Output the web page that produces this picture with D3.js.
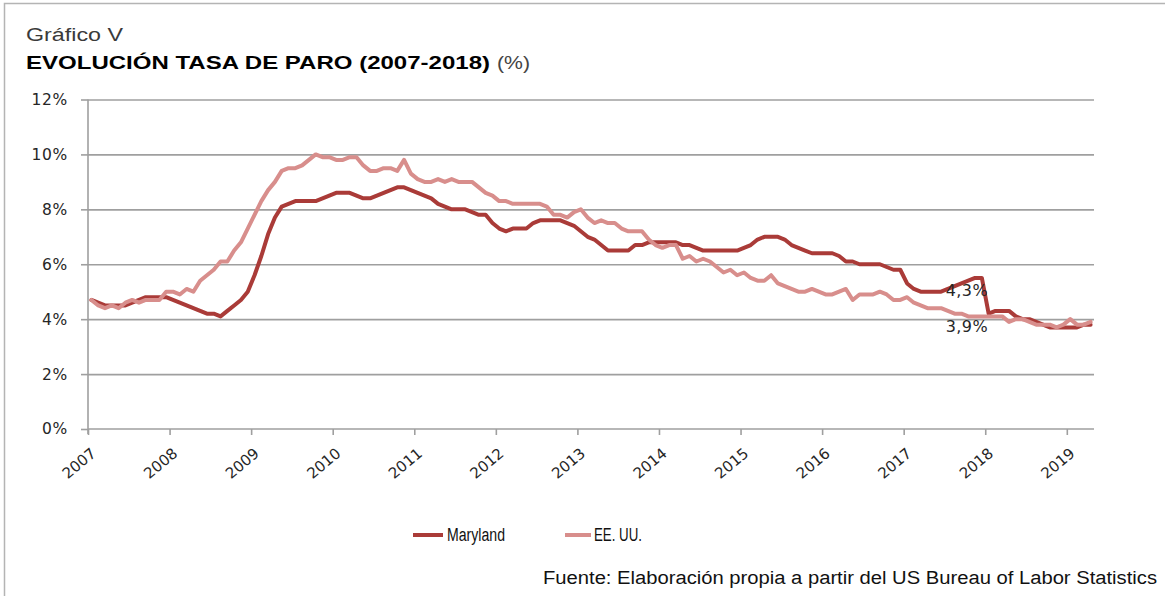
<!DOCTYPE html>
<html>
<head>
<meta charset="utf-8">
<script src="https://cdn.jsdelivr.net/npm/d3@7"></script>
<style>
  body { margin: 0; background: #fff; }
  svg { display: block; }
</style>
</head>
<body>
<svg id="chart" width="1165" height="596"></svg>
<script>
// monthly unemployment rate, Jan 2007 .. Apr 2019
const maryland = [
  4.7, 4.6, 4.5, 4.5, 4.5, 4.5, 4.6, 4.7, 4.8, 4.8, 4.8, 4.8,
  4.7, 4.6, 4.5, 4.4, 4.3, 4.2, 4.2, 4.1, 4.3, 4.5, 4.7, 5.0,
  5.6, 6.3, 7.1, 7.7, 8.1, 8.2, 8.3, 8.3, 8.3, 8.3, 8.4, 8.5,
  8.6, 8.6, 8.6, 8.5, 8.4, 8.4, 8.5, 8.6, 8.7, 8.8, 8.8, 8.7,
  8.6, 8.5, 8.4, 8.2, 8.1, 8.0, 8.0, 8.0, 7.9, 7.8, 7.8, 7.5,
  7.3, 7.2, 7.3, 7.3, 7.3, 7.5, 7.6, 7.6, 7.6, 7.6, 7.5, 7.4,
  7.2, 7.0, 6.9, 6.7, 6.5, 6.5, 6.5, 6.5, 6.7, 6.7, 6.8, 6.8,
  6.8, 6.8, 6.8, 6.7, 6.7, 6.6, 6.5, 6.5, 6.5, 6.5, 6.5, 6.5,
  6.6, 6.7, 6.9, 7.0, 7.0, 7.0, 6.9, 6.7, 6.6, 6.5, 6.4, 6.4,
  6.4, 6.4, 6.3, 6.1, 6.1, 6.0, 6.0, 6.0, 6.0, 5.9, 5.8, 5.8,
  5.3, 5.1, 5.0, 5.0, 5.0, 5.0, 5.1, 5.2, 5.3, 5.4, 5.5, 5.5,
  4.2, 4.3, 4.3, 4.3, 4.1, 4.0, 4.0, 3.9, 3.8, 3.7, 3.7, 3.7,
  3.7, 3.7, 3.8, 3.8
];
const eeuu = [
  4.7, 4.5, 4.4, 4.5, 4.4, 4.6, 4.7, 4.6, 4.7, 4.7, 4.7, 5.0,
  5.0, 4.9, 5.1, 5.0, 5.4, 5.6, 5.8, 6.1, 6.1, 6.5, 6.8, 7.3,
  7.8, 8.3, 8.7, 9.0, 9.4, 9.5, 9.5, 9.6, 9.8, 10.0, 9.9, 9.9,
  9.8, 9.8, 9.9, 9.9, 9.6, 9.4, 9.4, 9.5, 9.5, 9.4, 9.8, 9.3,
  9.1, 9.0, 9.0, 9.1, 9.0, 9.1, 9.0, 9.0, 9.0, 8.8, 8.6, 8.5,
  8.3, 8.3, 8.2, 8.2, 8.2, 8.2, 8.2, 8.1, 7.8, 7.8, 7.7, 7.9,
  8.0, 7.7, 7.5, 7.6, 7.5, 7.5, 7.3, 7.2, 7.2, 7.2, 6.9, 6.7,
  6.6, 6.7, 6.7, 6.2, 6.3, 6.1, 6.2, 6.1, 5.9, 5.7, 5.8, 5.6,
  5.7, 5.5, 5.4, 5.4, 5.6, 5.3, 5.2, 5.1, 5.0, 5.0, 5.1, 5.0,
  4.9, 4.9, 5.0, 5.1, 4.7, 4.9, 4.9, 4.9, 5.0, 4.9, 4.7, 4.7,
  4.8, 4.6, 4.5, 4.4, 4.4, 4.4, 4.3, 4.2, 4.2, 4.1, 4.1, 4.1,
  4.1, 4.1, 4.1, 3.9, 4.0, 4.0, 3.9, 3.8, 3.8, 3.8, 3.7, 3.8,
  4.0, 3.8, 3.8, 3.9
];
const seriesNames = ["Maryland", "EE. UU."];
const yearLabels = ["2007", "2008", "2009", "2010", "2011", "2012", "2013",
                    "2014", "2015", "2016", "2017", "2018", "2019"];
const yTicks = [0, 2, 4, 6, 8, 10, 12];
// the two loose labels on the right of the plot
const noteText = ["4,3%", "3,9%"];
const noteMonth = [133, 133];
const noteValue = [5.05, 3.75];

const colMd = "#aa3b38", colUs = "#d88e8c", gridCol = "#9f9f9f";

const svg = d3.select("#chart");
const plot = {left: 88, right: 1094, top: 99.5, bottom: 429};

svg.append("rect").attr("width", 1165).attr("height", 596).attr("fill", "#fff");
// frame of the original figure
svg.append("path").attr("d", "M4.5,596V3.5H1165")
  .attr("fill", "none").attr("stroke", "#b4b4b4").attr("stroke-width", 1.5);

// titles
svg.append("text").attr("x", 26).attr("y", 41)
  .attr("font-family", "'Liberation Sans', Arial, sans-serif").attr("font-size", 18)
  .attr("fill", "#3a3a3a").attr("textLength", 97).attr("lengthAdjust", "spacingAndGlyphs")
  .text("Gráfico V");
svg.append("text").attr("x", 26).attr("y", 69)
  .attr("font-family", "'Liberation Sans', Arial, sans-serif").attr("font-size", 19)
  .attr("font-weight", "bold").attr("fill", "#000")
  .attr("textLength", 464).attr("lengthAdjust", "spacingAndGlyphs")
  .text("EVOLUCIÓN TASA DE PARO (2007-2018)");
svg.append("text").attr("x", 497).attr("y", 69)
  .attr("font-family", "'Liberation Sans', Arial, sans-serif").attr("font-size", 19)
  .attr("fill", "#444").attr("textLength", 33).attr("lengthAdjust", "spacingAndGlyphs")
  .text("(%)");

const n = maryland.length;
const x = d3.scaleLinear().domain([0, n]).range([plot.left, plot.right]);
const y = d3.scaleLinear().domain([0, 12]).range([plot.bottom, plot.top]);

// horizontal gridlines
svg.append("g")
  .attr("transform", `translate(${plot.left},0)`)
  .call(d3.axisLeft(y).tickValues(yTicks.slice(1)).tickSize(-(plot.right - plot.left)).tickFormat(""))
  .call(g => g.select(".domain").remove())
  .call(g => g.selectAll("line").attr("stroke", gridCol).attr("stroke-width", 1.6));

// y axis
const yAxis = svg.append("g")
  .attr("transform", `translate(${plot.left},0)`)
  .call(d3.axisLeft(y).tickValues(yTicks).tickSize(7).tickPadding(13).tickFormat(d => d + "%"));
yAxis.select(".domain").attr("stroke", gridCol).attr("stroke-width", 1.6)
  .attr("d", `M0,${plot.top}V${plot.bottom + 5}`);
yAxis.selectAll("line").attr("stroke", gridCol).attr("stroke-width", 1.6);
yAxis.selectAll("text")
  .attr("font-family", "'DejaVu Sans', Verdana, sans-serif").attr("font-size", 15.5)
  .attr("letter-spacing", 0.7).attr("fill", "#262626");

// x axis, one tick at the start of every year
const xAxis = svg.append("g")
  .attr("transform", `translate(0,${plot.bottom})`)
  .call(d3.axisBottom(x).tickValues(yearLabels.map((d, i) => i * 12)).tickSize(6).tickFormat(""));
xAxis.select(".domain").attr("stroke", gridCol).attr("stroke-width", 1.6)
  .attr("d", `M${plot.left},0H${plot.right}`);
xAxis.selectAll("line").attr("stroke", gridCol).attr("stroke-width", 1.6);

svg.append("g").selectAll("text")
  .data(yearLabels)
  .join("text")
  .attr("transform", (d, i) => `translate(${x(i * 12) + 9},455) rotate(-40)`)
  .attr("text-anchor", "end")
  .attr("font-family", "'DejaVu Sans', Verdana, sans-serif").attr("font-size", 15)
  .attr("fill", "#262626")
  .text(d => d);

// series
const line = d3.line().x((d, i) => x(i + 0.5)).y(d => y(d));
[[maryland, colMd], [eeuu, colUs]].forEach(([vals, col]) => {
  svg.append("path").datum(vals)
    .attr("d", line)
    .attr("fill", "none").attr("stroke", col).attr("stroke-width", 4)
    .attr("stroke-linejoin", "round").attr("stroke-linecap", "round");
});

// loose value labels
svg.append("g").selectAll("text")
  .data(noteText)
  .join("text")
  .attr("x", (d, i) => x(noteMonth[i]) - 4)
  .attr("y", (d, i) => y(noteValue[i]))
  .attr("dy", "0.36em")
  .attr("text-anchor", "end")
  .attr("font-family", "'DejaVu Sans', Verdana, sans-serif").attr("font-size", 16)
  .attr("letter-spacing", 0.4).attr("fill", "#262626")
  .text(d => d);

// legend
const legend = [
  {name: seriesNames[0], col: colMd, x0: 413, x1: 443, tx: 447, w: 58},
  {name: seriesNames[1], col: colUs, x0: 565, x1: 591, tx: 594, w: 48}
];
legend.forEach(l => {
  svg.append("line").attr("x1", l.x0).attr("x2", l.x1).attr("y1", 535).attr("y2", 535)
    .attr("stroke", l.col).attr("stroke-width", 4);
  svg.append("text").attr("x", l.tx).attr("y", 541)
    .attr("font-family", "'Liberation Sans Narrow', 'Arial Narrow', 'Liberation Sans', sans-serif")
    .attr("font-size", 18).attr("fill", "#111")
    .attr("textLength", l.w).attr("lengthAdjust", "spacingAndGlyphs")
    .text(l.name);
});

// source
svg.append("text").attr("x", 543).attr("y", 584)
  .attr("font-family", "'Liberation Sans', Arial, sans-serif").attr("font-size", 18)
  .attr("fill", "#111").attr("textLength", 614).attr("lengthAdjust", "spacingAndGlyphs")
  .text("Fuente: Elaboración propia a partir del US Bureau of Labor Statistics");
</script>
</body>
</html>
